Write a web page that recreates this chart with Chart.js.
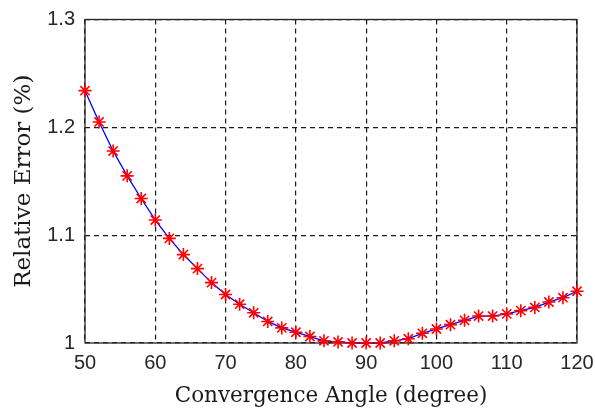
<!DOCTYPE html>
<html>
<head>
<meta charset="utf-8">
<script src="https://cdn.jsdelivr.net/npm/chart.js@4"></script>
<style>
  html, body { margin: 0; padding: 0; background: #fff; }
  #wrap { width: 595px; height: 408px; }
</style>
</head>
<body>
<div id="wrap"><canvas id="errChart" width="595" height="408"></canvas></div>
<script>
// convergence angle (degree)
const angles = [50, 52, 54, 56, 58, 60, 62, 64, 66, 68, 70, 72, 74, 76, 78, 80, 82, 84,
                86, 88, 90, 92, 94, 96, 98, 100, 102, 104, 106, 108, 110, 112, 114, 116, 118, 120];
// relative error (%)
const relError = [1.234, 1.205, 1.178, 1.155, 1.134, 1.114, 1.097, 1.082, 1.069, 1.056, 1.045, 1.036,
                  1.028, 1.020, 1.014, 1.010, 1.006, 1.002, 1.001, 1.000, 1.000, 1.000, 1.002, 1.004,
                  1.009, 1.013, 1.017, 1.021, 1.025, 1.025, 1.027, 1.030, 1.033, 1.038, 1.042, 1.048];
const xTicks = [50, 60, 70, 80, 90, 100, 110, 120];
const yTicks = [1, 1.1, 1.2, 1.3];

const points = angles.map((a, i) => ({ x: a, y: relError[i] }));

// full box round the plot area, like the matlab axes
const boxPlugin = {
  id: 'box',
  beforeDatasetsDraw(chart) {
    const { ctx, chartArea: a } = chart;
    ctx.save();
    ctx.strokeStyle = '#262626';
    ctx.lineWidth = 1.3;
    ctx.setLineDash([]);
    ctx.strokeRect(a.left, a.top, a.right - a.left, a.bottom - a.top);
    ctx.restore();
  }
};

const tickFont = { family: '"Liberation Sans", Arial, sans-serif', size: 20 };

new Chart(document.getElementById('errChart'), {
  type: 'line',
  data: {
    datasets: [{
      data: points,
      borderColor: '#0000ff',
      borderWidth: 1.3,
      pointStyle: 'star',
      pointRadius: 6.5,
      pointBorderWidth: 1.6,
      pointBorderColor: '#ff0000',
      pointBackgroundColor: '#ff0000',
      tension: 0,
      clip: false
    }]
  },
  options: {
    responsive: false,
    animation: false,
    events: [],
    layout: { padding: { left: 0, right: 18, top: 19.5, bottom: 0 } },
    plugins: { legend: { display: false }, tooltip: { enabled: false } },
    scales: {
      x: {
        type: 'linear',
        min: 50,
        max: 120,
        afterFit(scale) {
          scale.height = 65;
          scale.paddingLeft = 0;
          scale.paddingRight = 0;
        },
        afterBuildTicks(scale) { scale.ticks = xTicks.map(v => ({ value: v })); },
        ticks: { font: tickFont, color: '#262626', padding: 8, maxRotation: 0 },
        grid: { color: '#1a1a1a', lineWidth: 1.2, drawTicks: false },
        border: { display: false, dash: [5, 4] },
        title: {
          display: true,
          text: 'Convergence Angle (degree)',
          font: { family: '"DejaVu Serif", serif', size: 21.5, lineHeight: 1 },
          color: '#1a1a1a',
          padding: { top: 0, bottom: 1 }
        }
      },
      y: {
        type: 'linear',
        min: 1,
        max: 1.3,
        afterFit(scale) {
          scale.width = 85;
          scale.paddingTop = 0;
          scale.paddingBottom = 0;
        },
        afterBuildTicks(scale) { scale.ticks = yTicks.map(v => ({ value: v })); },
        ticks: {
          font: tickFont,
          color: '#262626',
          padding: 10,
          callback: v => (v === 1 ? '1' : v.toFixed(1))
        },
        grid: { color: '#1a1a1a', lineWidth: 1.2, drawTicks: false },
        border: { display: false, dash: [5, 4] },
        title: {
          display: true,
          text: 'Relative Error (%)',
          font: { family: '"DejaVu Serif", serif', size: 23, lineHeight: 1 },
          color: '#1a1a1a',
          padding: { top: 13, bottom: 0 }
        }
      }
    }
  },
  plugins: [boxPlugin]
});
</script>
</body>
</html>
